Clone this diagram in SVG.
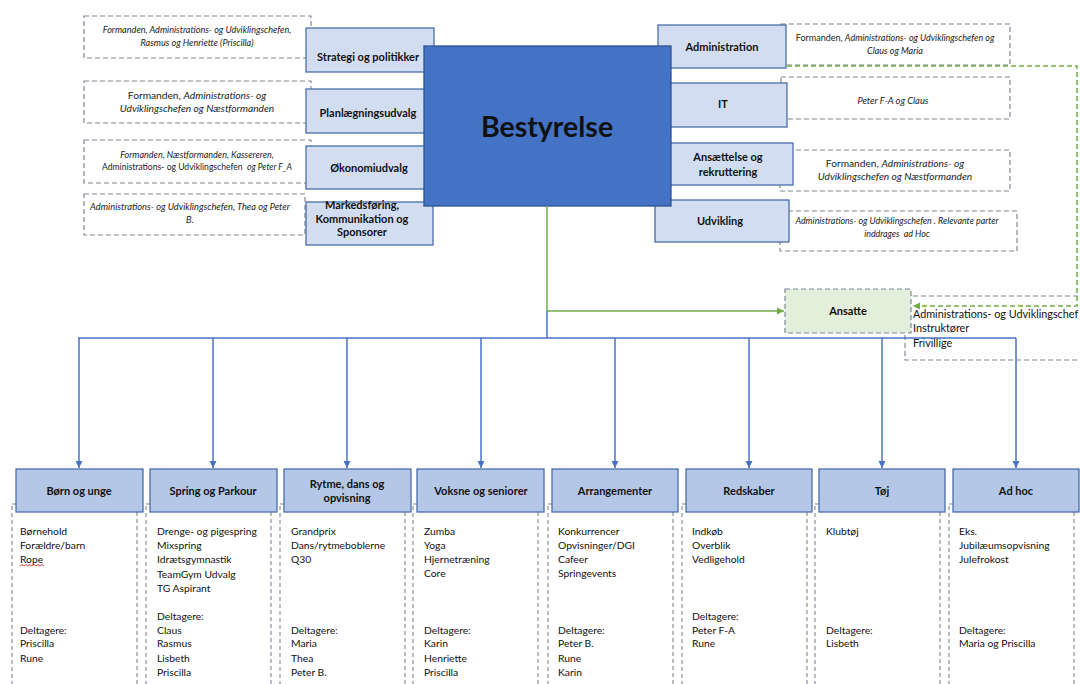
<svg xmlns="http://www.w3.org/2000/svg" width="1080" height="684" viewBox="0 0 1080 684">
<style>
.bx{fill:#D2DDF1;stroke:#4A6FA8;stroke-width:1.3}
.hd{fill:#B4C7E7;stroke:#4A6FA8;stroke-width:1.3}
.cm{fill:none;stroke:#7F8796;stroke-width:1.2;stroke-dasharray:5 3}
.ls{fill:none;stroke:#7F8796;stroke-width:1.1;stroke-dasharray:4 3}
text{font-family:Lato,"Liberation Sans",sans-serif;fill:#111}
.b{font-weight:bold;font-size:11px;text-anchor:middle}
.i{font-style:italic;font-size:9.1px;text-anchor:middle;fill:#222}
.n{font-style:normal}
.l{font-size:10.3px}
.blue{stroke:#4A72C4;stroke-width:1.5;fill:none}
.grn{stroke:#70AD47;stroke-width:1.5;fill:none}
</style>
<defs>
<marker id="ab" markerUnits="userSpaceOnUse" markerWidth="8" markerHeight="8" refX="7" refY="4" orient="auto"><path d="M0,0.5 L7,4 L0,7.5 z" fill="#4A72C4"/></marker>
<marker id="ag" markerUnits="userSpaceOnUse" markerWidth="8" markerHeight="8" refX="7" refY="4" orient="auto"><path d="M0,0.5 L7,4 L0,7.5 z" fill="#70AD47"/></marker>
</defs>

<g id="comments-left">
<rect class="cm" x="84" y="16" width="227" height="42"/>
<text class="i" x="197" y="33">Formanden, Administrations- og Udviklingschefen,</text>
<text class="i" x="197" y="46">Rasmus og Henriette (Priscilla)</text>
<rect class="cm" x="84" y="81" width="227" height="42"/>
<text class="i" x="197" y="98.5" style="font-size:10.2px"><tspan class="n">Formanden, </tspan>Administrations- og</text>
<text class="i" x="197" y="111.5" style="font-size:10.2px">Udviklingschefen og Næstformanden</text>
<rect class="cm" x="84" y="140" width="227" height="43"/>
<text class="i" x="197" y="158" style="font-size:9px">Formanden, Næstformanden, Kassereren,</text>
<text class="i" x="197" y="169.5" style="font-size:8.6px;white-space:pre"><tspan class="n">Administrations- og Udviklingschefen  </tspan>og Peter F_A</text>
<rect class="cm" x="84" y="194" width="221" height="41"/>
<text class="i" x="190" y="210" style="font-size:9.3px">Administrations- og Udviklingschefen, Thea og Peter</text>
<text class="i" x="190" y="223" style="font-size:9.3px">B.</text>
</g>

<g id="comments-right">
<rect class="cm" x="781" y="24" width="229" height="41"/>
<text class="i" x="895" y="41" style="font-size:9px"><tspan class="n">Formanden, </tspan>Administrations- og Udviklingschefen og</text>
<text class="i" x="895" y="54" style="font-size:9px">Claus og Maria</text>
<rect class="cm" x="781" y="77" width="229" height="42"/>
<text class="i" x="893" y="104" style="font-size:9.4px">Peter F-A og Claus</text>
<rect class="cm" x="780" y="150" width="230" height="41"/>
<text class="i" x="895" y="167" style="font-size:10.2px"><tspan class="n">Formanden, </tspan>Administrations- og</text>
<text class="i" x="895" y="180" style="font-size:10.2px">Udviklingschefen og Næstformanden</text>
<rect class="cm" x="780" y="211" width="237" height="40"/>
<text class="i" x="897" y="224" style="font-size:8.9px">Administrations- og Udviklingschefen . Relevante parter</text>
<text class="i" x="897" y="236.5" style="font-size:8.9px;white-space:pre">inddrages  ad Hoc</text>
</g>

<g id="strategi"><rect class="bx" x="306" y="28" width="128" height="44"/><text class="b" x="368" y="61">Strategi og politikker</text></g>
<g id="planlaegning"><rect class="bx" x="306" y="89" width="128" height="44"/><text class="b" x="368" y="117">Planlægningsudvalg</text></g>
<g id="oekonomi"><rect class="bx" x="306" y="146" width="130" height="43"/><text class="b" x="369" y="172">Økonomiudvalg</text></g>
<g id="markedsfoering"><rect class="bx" x="306" y="202" width="127" height="43"/><text class="b" x="362" y="209">Markedsføring,</text><text class="b" x="362" y="222.5">Kommunikation og</text><text class="b" x="362" y="236">Sponsorer</text></g>

<g id="administration"><rect class="bx" x="658" y="25" width="128" height="43"/><text class="b" x="722" y="51">Administration</text></g>
<g id="it"><rect class="bx" x="662" y="83" width="125" height="44"/><text class="b" x="723" y="108">IT</text></g>
<g id="ansaettelse"><rect class="bx" x="662" y="143" width="131" height="42"/><text class="b" x="728" y="161">Ansættelse og</text><text class="b" x="728" y="175.5">rekruttering</text></g>
<g id="udvikling"><rect class="bx" x="655" y="200" width="134" height="42"/><text class="b" x="720" y="225">Udvikling</text></g>

<g id="bestyrelse"><rect x="424" y="46" width="247" height="160" fill="#4472C4" stroke="#2F528F" stroke-width="1.3"/><text x="547" y="137" text-anchor="middle" font-weight="bold" font-size="28.5px">Bestyrelse</text></g>

<g id="ansatte-info"><rect class="cm" x="905" y="296" width="190" height="64"/>
<text class="l" x="913" y="318" style="font-size:10.8px">Administrations- og Udviklingschef</text>
<text class="l" x="913" y="332" style="font-size:10.8px">Instruktører</text>
<text class="l" x="913" y="347" style="font-size:10.8px">Frivillige</text></g>
<g id="ansatte"><rect x="785" y="289" width="126" height="44" fill="#E2EFDA" stroke="#7F8796" stroke-width="1.2" stroke-dasharray="5 3"/><text class="b" x="848" y="315">Ansatte</text></g>

<g id="connectors">
<path class="grn" d="M547,206 V311"/>
<path class="grn" d="M547,311 H784" marker-end="url(#ag)"/>
<path class="grn" d="M787,66 H1077 V306 H913" stroke-dasharray="5 3" marker-end="url(#ag)"/>
<path class="blue" d="M547,311 V338"/>
<path class="blue" d="M78,338 H1016"/>
<path class="blue" d="M79,338 V468" marker-end="url(#ab)"/>
<path class="blue" d="M213,338 V468" marker-end="url(#ab)"/>
<path class="blue" d="M347,338 V468" marker-end="url(#ab)"/>
<path class="blue" d="M481,338 V468" marker-end="url(#ab)"/>
<path class="blue" d="M615,338 V468" marker-end="url(#ab)"/>
<path class="blue" d="M749,338 V468" marker-end="url(#ab)"/>
<path class="blue" d="M882,338 V468" marker-end="url(#ab)"/>
<path class="blue" d="M1016,338 V468" marker-end="url(#ab)"/>
</g>

<g id="boern">
<rect class="ls" x="12" y="504" width="125" height="200"/>
<rect class="hd" x="16" y="469" width="127" height="43"/><text class="b" x="79" y="495">Børn og unge</text>
<text class="l" x="20"><tspan x="20" y="535">Børnehold</tspan><tspan x="20" y="549">Forældre/barn</tspan><tspan x="20" y="563">Rope</tspan><tspan x="20" y="634">Deltagere:</tspan><tspan x="20" y="647">Priscilla</tspan><tspan x="20" y="662">Rune</tspan></text>
<path d="M20,566 l2,-1.5 l2,1.5 l2,-1.5 l2,1.5 l2,-1.5 l2,1.5 l2,-1.5 l2,1.5 l2,-1.5 l2,1.5 l2,-1.5 l2,1.5" fill="none" stroke="#E02A2A" stroke-width="0.9"/>
</g>
<g id="spring">
<rect class="ls" x="146" y="504" width="125" height="200"/>
<rect class="hd" x="150" y="469" width="127" height="43"/><text class="b" x="213" y="495">Spring og Parkour</text>
<text class="l"><tspan x="157" y="535">Drenge- og pigespring</tspan><tspan x="157" y="549">Mixspring</tspan><tspan x="157" y="563">Idrætsgymnastik</tspan><tspan x="157" y="578">TeamGym Udvalg</tspan><tspan x="157" y="592">TG Aspirant</tspan><tspan x="157" y="620">Deltagere:</tspan><tspan x="157" y="634">Claus</tspan><tspan x="157" y="647">Rasmus</tspan><tspan x="157" y="662">Lisbeth</tspan><tspan x="157" y="676">Priscilla</tspan></text>
</g>
<g id="rytme">
<rect class="ls" x="280" y="504" width="125" height="200"/>
<rect class="hd" x="284" y="469" width="127" height="43"/><text class="b" x="347" y="488">Rytme, dans og</text><text class="b" x="347" y="502">opvisning</text>
<text class="l"><tspan x="291" y="535">Grandprix</tspan><tspan x="291" y="549">Dans/rytmeboblerne</tspan><tspan x="291" y="563">Q30</tspan><tspan x="291" y="634">Deltagere:</tspan><tspan x="291" y="647">Maria</tspan><tspan x="291" y="662">Thea</tspan><tspan x="291" y="676">Peter B.</tspan></text>
</g>
<g id="voksne">
<rect class="ls" x="413" y="504" width="125" height="200"/>
<rect class="hd" x="417" y="469" width="127" height="43"/><text class="b" x="481" y="495">Voksne og seniorer</text>
<text class="l"><tspan x="424" y="535">Zumba</tspan><tspan x="424" y="549">Yoga</tspan><tspan x="424" y="563">Hjernetræning</tspan><tspan x="424" y="577">Core</tspan><tspan x="424" y="634">Deltagere:</tspan><tspan x="424" y="647">Karin</tspan><tspan x="424" y="662">Henriette</tspan><tspan x="424" y="676">Priscilla</tspan></text>
</g>
<g id="arrangementer">
<rect class="ls" x="548" y="504" width="125" height="200"/>
<rect class="hd" x="552" y="469" width="126" height="43"/><text class="b" x="615" y="495">Arrangementer</text>
<text class="l"><tspan x="558" y="535">Konkurrencer</tspan><tspan x="558" y="549">Opvisninger/DGI</tspan><tspan x="558" y="563">Cafeer</tspan><tspan x="558" y="577">Springevents</tspan><tspan x="558" y="634">Deltagere:</tspan><tspan x="558" y="647">Peter B.</tspan><tspan x="558" y="662">Rune</tspan><tspan x="558" y="676">Karin</tspan></text>
</g>
<g id="redskaber">
<rect class="ls" x="682" y="504" width="125" height="200"/>
<rect class="hd" x="686" y="469" width="126" height="43"/><text class="b" x="749" y="495">Redskaber</text>
<text class="l"><tspan x="692" y="535">Indkøb</tspan><tspan x="692" y="549">Overblik</tspan><tspan x="692" y="563">Vedligehold</tspan><tspan x="692" y="620">Deltagere:</tspan><tspan x="692" y="634">Peter F-A</tspan><tspan x="692" y="647">Rune</tspan></text>
</g>
<g id="toej">
<rect class="ls" x="815" y="504" width="125" height="200"/>
<rect class="hd" x="819" y="469" width="126" height="43"/><text class="b" x="882" y="495">Tøj</text>
<text class="l"><tspan x="826" y="535">Klubtøj</tspan><tspan x="826" y="634">Deltagere:</tspan><tspan x="826" y="647">Lisbeth</tspan></text>
</g>
<g id="adhoc">
<rect class="ls" x="949" y="504" width="125" height="200"/>
<rect class="hd" x="953" y="469" width="126" height="43"/><text class="b" x="1016" y="495">Ad hoc</text>
<text class="l"><tspan x="959" y="535">Eks.</tspan><tspan x="959" y="549">Jubilæumsopvisning</tspan><tspan x="959" y="563">Julefrokost</tspan><tspan x="959" y="634">Deltagere:</tspan><tspan x="959" y="647">Maria og Priscilla</tspan></text>
</g>
</svg>
